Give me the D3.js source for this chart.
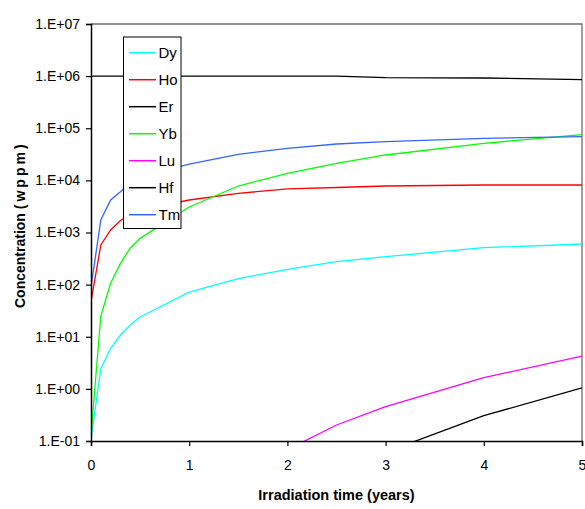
<!DOCTYPE html>
<html>
<head>
<meta charset="utf-8">
<script src="https://cdn.jsdelivr.net/npm/d3@7"></script>
<style>
  html, body { margin: 0; padding: 0; background: #fff; }
  svg { display: block; font-family: "Liberation Sans", Arial, sans-serif; }
</style>
</head>
<body>
<svg id="chart" width="585" height="509"></svg>
<script>
// ---- data ----
const years = [0, 0.1, 0.2, 0.3, 0.4, 0.5, 1, 1.5, 2, 2.5, 3, 4, 5];
const Dy = [0.11, 2.4, 6.0, 10.8, 16.8, 24, 72, 130, 197, 275, 343, 511, 602];
const Ho = [47, 576, 1117, 1700, 2200, 2700, 4200, 5650, 6840, 7300, 7800, 8150, 8150];
const Er = [1.0e6, 1.0e6, 1.0e6, 1.0e6, 1.0e6, 1.0e6, 1.0e6, 1.0e6, 1.0e6, 1.0e6, 0.94e6, 0.92e6, 0.86e6];
const Yb = [0.13, 25, 106, 256, 505, 773, 3085, 7800, 13650, 21250, 30700, 51400, 75300];
const Lu = [null, null, null, null, null, null, null, null, 0.068, 0.203, 0.456, 1.64, 4.27];
const Hf = [null, null, null, null, null, null, null, null, null, null, 0.061, 0.306, 1.05];
const Tm = [90, 1738, 4200, 6070, 9000, 11500, 20600, 31600, 41200, 49900, 55200, 64100, 68900];
const seriesNames = ["Dy", "Ho", "Er", "Yb", "Lu", "Hf", "Tm"];
const seriesValues = [Dy, Ho, Er, Yb, Lu, Hf, Tm];
const seriesColors = ["#00FFFF", "#FF0000", "#000000", "#00FF00", "#FF00FF", "#000000", "#3366FF"];
const xTicks = [0, 1, 2, 3, 4, 5];
const yTicks = [1e-1, 1e0, 1e1, 1e2, 1e3, 1e4, 1e5, 1e6, 1e7];
const yTickLabels = ["1.E-01", "1.E+00", "1.E+01", "1.E+02", "1.E+03", "1.E+04", "1.E+05", "1.E+06", "1.E+07"];
const xTitle = "Irradiation time (years)";
const yTitleMain = "Concentration ";
const yTitleUnit = "(wppm)";

// ---- layout ----
const L = 91, R = 582, T = 24, B = 441;
const svg = d3.select("#chart");
const x = d3.scaleLinear().domain([0, 5]).range([L, R]);
const y = d3.scaleLog().domain([0.1, 1e7]).range([B, T]);

svg.append("defs").append("clipPath").attr("id", "clip")
  .append("rect").attr("x", L).attr("y", T).attr("width", R - L).attr("height", B - T);

// frame (top & right)
svg.append("path")
  .attr("d", `M${L},${T}H${R}V${B}`)
  .attr("fill", "none").attr("stroke", "#6e6e6e").attr("stroke-width", 1.3);

// lines
const lineGen = d3.line()
  .defined(d => d[1] != null && d[1] > 0)
  .x(d => x(d[0])).y(d => y(d[1]));
const gLines = svg.append("g").attr("clip-path", "url(#clip)");
seriesValues.forEach((vals, i) => {
  gLines.append("path")
    .datum(years.map((t, j) => [t, vals[j]]))
    .attr("d", lineGen)
    .attr("fill", "none")
    .attr("stroke", seriesColors[i])
    .attr("stroke-width", 1.3);
});

// axes
const yAxis = d3.axisLeft(y).tickValues(yTicks)
  .tickFormat((d, i) => yTickLabels[i]).tickSize(5).tickPadding(6);
const gy = svg.append("g").attr("transform", `translate(${L},0)`).call(yAxis);
const xAxis = d3.axisBottom(x).tickValues(xTicks).tickFormat(d3.format("d")).tickSize(5).tickPadding(14);
const gx = svg.append("g").attr("transform", `translate(0,${B})`).call(xAxis);
[gx, gy].forEach(g => {
  g.select(".domain").attr("stroke", "#000").attr("stroke-width", 1.5);
  g.selectAll(".tick line").attr("stroke", "#000").attr("stroke-width", 1.2);
  g.selectAll(".tick text").attr("fill", "#000")
    .style("font-family", '"Liberation Sans", Arial, sans-serif').style("font-size", "14px");
});

// axis titles
svg.append("text")
  .attr("x", (L + R) / 2).attr("y", 500)
  .attr("text-anchor", "middle")
  .style("font-weight", "bold").style("font-size", "14.5px")
  .text(xTitle);

const yt = svg.append("text")
  .attr("transform", `translate(25,308) rotate(-90)`)
  .attr("text-anchor", "start")
  .style("font-weight", "bold").style("font-size", "14px");
yt.append("tspan").text(yTitleMain);
yt.append("tspan").attr("letter-spacing", "3px").text(yTitleUnit);

// legend
const lg = svg.append("g");
lg.append("rect").attr("x", 123.5).attr("y", 37).attr("width", 57.5).attr("height", 191.5)
  .attr("fill", "#fff").attr("stroke", "#000").attr("stroke-width", 1);
seriesNames.forEach((name, i) => {
  const yy = 52.7 + i * 27;
  lg.append("line").attr("x1", 129).attr("x2", 156).attr("y1", yy).attr("y2", yy)
    .attr("stroke", seriesColors[i]).attr("stroke-width", 1.5);
  lg.append("text").attr("x", 158.5).attr("y", yy + 5.3)
    .style("font-size", "15px").text(name);
});
</script>
</body>
</html>
